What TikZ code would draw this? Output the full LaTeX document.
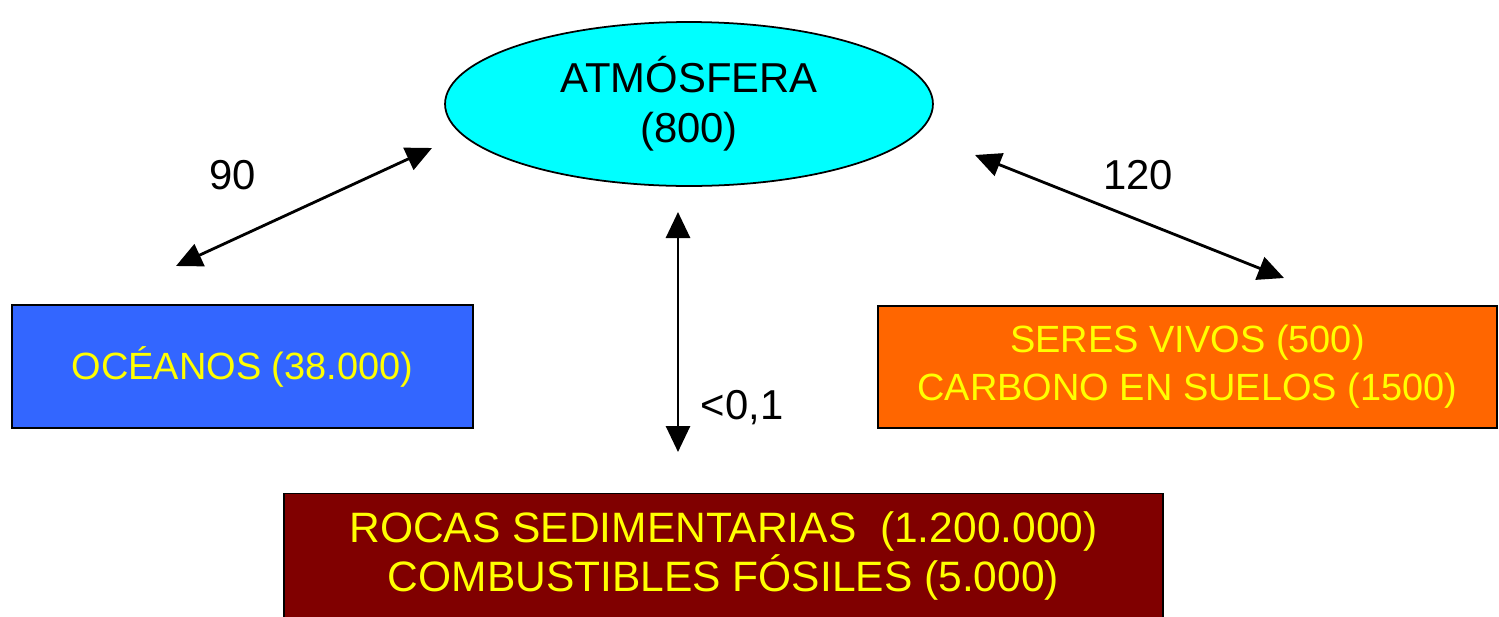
\documentclass[tikz,border=0pt]{standalone}
\usepackage{fontspec}
\setmainfont{Liberation Sans}
\usepackage{tikz}
\usetikzlibrary{shapes.geometric}
\usetikzlibrary{arrows.meta}
\definecolor{acyan}   {RGB}{0,255,255}
\definecolor{oblue}   {RGB}{51,102,255}
\definecolor{sorange} {RGB}{255,102,0}
\definecolor{rred}    {RGB}{128,0,0}
\definecolor{tyellow} {RGB}{255,255,0}
\tikzset{
    reservoir/.style={rectangle, draw=black, line width=1pt, inner sep=0pt,
             text=tyellow, align=center, font=\fontsize{21.6}{27.3}\selectfont
    },
    flux/.style={draw=black, line width=1.6pt,
             {Triangle[length=0.52cm,width=0.48cm]}-{Triangle[length=0.52cm,width=0.48cm]}
    },
    fluxlabel/.style={text=black, inner sep=0pt, font=\fontsize{23.8}{28}\selectfont}
  }

\begin{document}
\begin{tikzpicture}[x=0.02cm, y=-0.02cm]
 \useasboundingbox (0,0) rectangle (1499,616);
 %Atmosphere
     \node[ellipse, draw=black, line width=1pt, fill=acyan, inner sep=0pt,
           minimum width=9.76cm, minimum height=3.28cm, align=center,
           font=\fontsize{23.8}{28.4}\selectfont] (atm) at (689,104) {ATMÓSFERA\\(800)};
 %Reservoirs
     \node[reservoir, fill=oblue, minimum width=9.22cm, minimum height=2.46cm] (oce) at (242.5,366.5) {OCÉANOS (38.000)};
     \node[reservoir, fill=sorange, minimum width=12.38cm, minimum height=2.44cm] (ser) at (1187.5,367) {SERES VIVOS (500)\\CARBONO EN SUELOS (1500)};
     \node[reservoir, fill=rred, minimum width=17.58cm, minimum height=2.5cm,
           font=\fontsize{24.2}{28}\selectfont] (roc) at (723.5,556) {ROCAS SEDIMENTARIAS\ \ (1.200.000)\\COMBUSTIBLES FÓSILES (5.000)};
 %Arrow ends
     \coordinate (atmL) at (432,148);
     \coordinate (oceT) at (176,266);
     \coordinate (atmR) at (975,155);
     \coordinate (serT) at (1284,278);
     \coordinate (atmB) at (678,212);
     \coordinate (rocT) at (678,452);
 %Fluxes
     \draw[flux] (atmL) -- (oceT);
     \draw[flux] (atmR) -- (serT);
     \draw[flux] (atmB) -- (rocT);
 %Labels
     \node[fluxlabel] (l90) at (233,175) {90};
     \node[fluxlabel] (l120) at (1138,175) {120};
     \node[fluxlabel] (l01) at (742,408) {<0,1};
\end{tikzpicture}
\end{document}
